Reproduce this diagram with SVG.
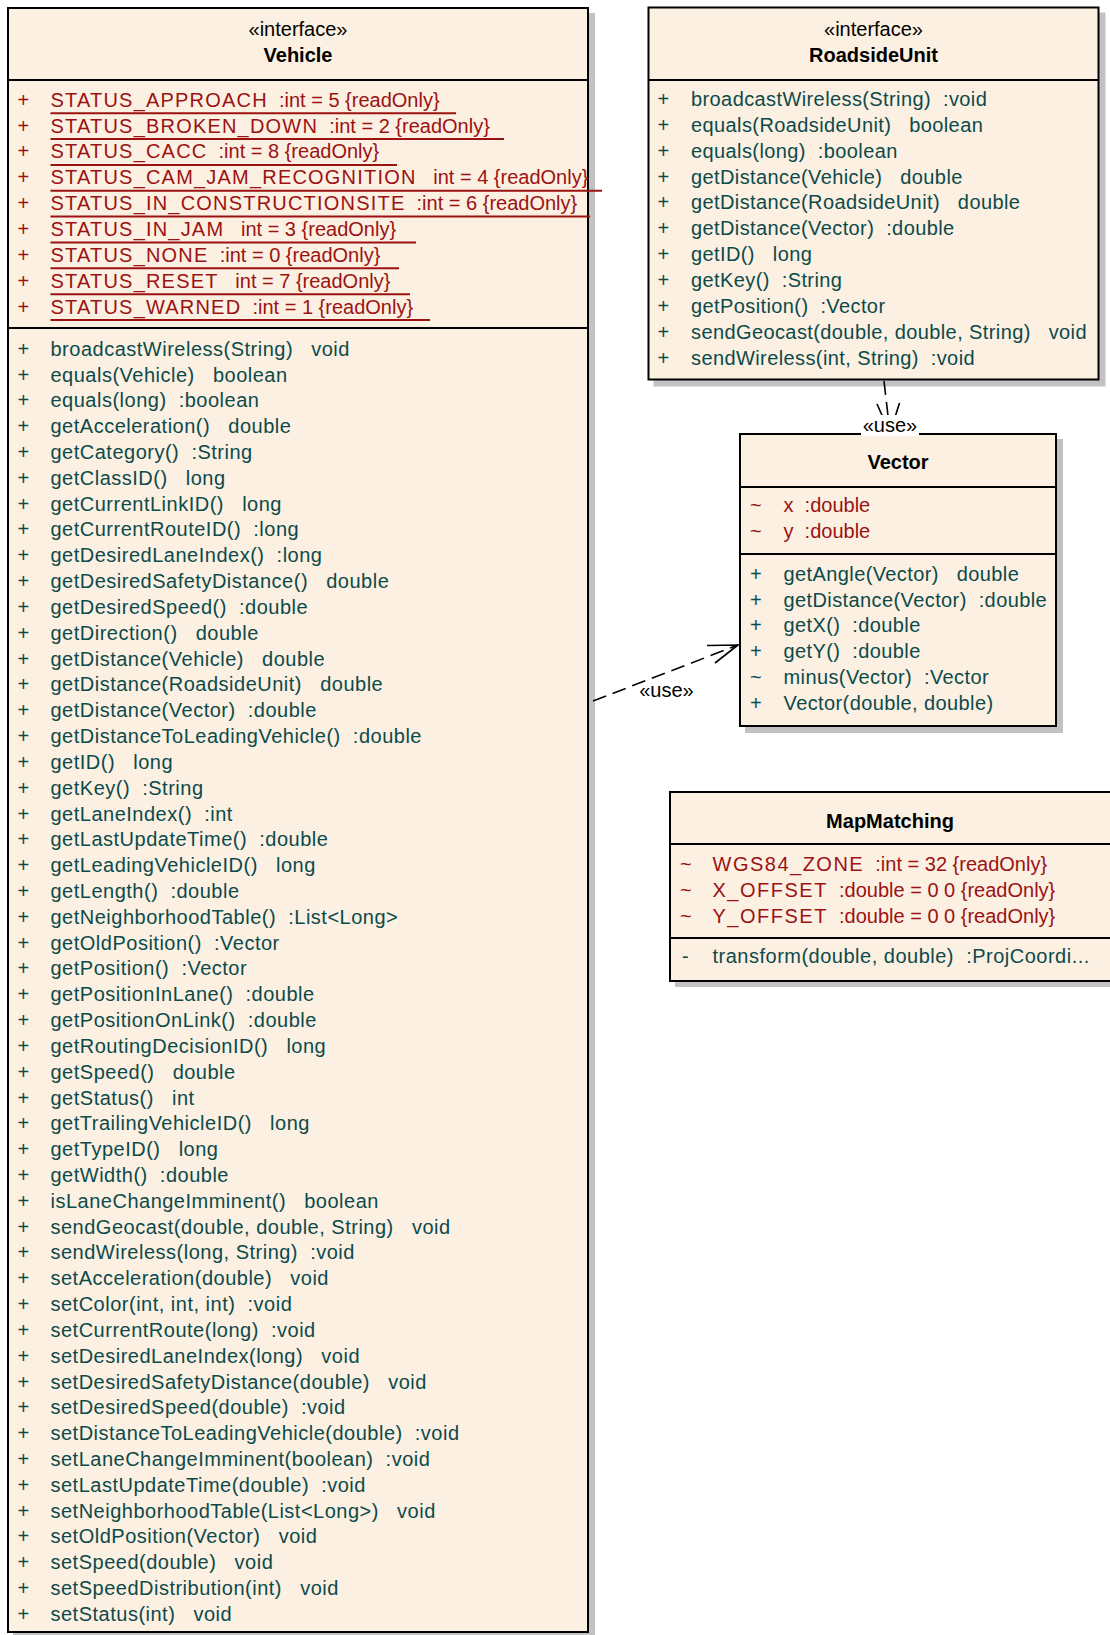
<svg xmlns="http://www.w3.org/2000/svg" width="1110" height="1635" viewBox="0 0 1110 1635" xml:space="preserve">
<style>
text { font-family: "Liberation Sans", Arial, sans-serif; font-size: 20px; white-space: pre; }
.box { fill: #FBF0E2; stroke: #000; stroke-width: 2; }
.shadow { fill: #C2C2C2; }
.sep { stroke: #000; stroke-width: 2; }
.m { fill: #0D4A4A; letter-spacing: 0.5px; }
.v { letter-spacing: 0.4px; }
.a { fill: #9C1212; }
.an { letter-spacing: 1.2px; }
.an2 { letter-spacing: 1.5px; }
.ul { stroke: #9C1212; stroke-width: 2; }
.hd { text-anchor: middle; fill: #000; }
.b { font-weight: bold; }
.conn { stroke: #000; stroke-width: 1.6; fill: none; stroke-dasharray: 14 7; }
.arr { stroke: #000; stroke-width: 1.6; fill: none; }
.lbl { fill: #000; text-anchor: middle; }
.lblbg { fill: #fff; }
</style>
<rect width="1110" height="1635" fill="#fff"/>

<g id="Vehicle">
<rect class="shadow" x="13" y="13" width="582" height="1630"/>
<rect class="box" x="8" y="8" width="580" height="1624"/>
<line class="sep" x1="8" y1="80" x2="588" y2="80"/>
<line class="sep" x1="8" y1="328" x2="588" y2="328"/>
<text class="hd" x="298" y="36">«interface»</text>
<text class="hd b" x="298" y="61.5">Vehicle</text>
<g class="a">
<text x="17.5" y="106.7">+</text><text x="50.5" y="106.7"><tspan class="an">STATUS_APPROACH</tspan>  :int = 5 {readOnly}</text>
<text x="17.5" y="132.55">+</text><text x="50.5" y="132.55"><tspan class="an">STATUS_BROKEN_DOWN</tspan>  :int = 2 {readOnly}</text>
<text x="17.5" y="158.4">+</text><text x="50.5" y="158.4"><tspan class="an">STATUS_CACC</tspan>  :int = 8 {readOnly}</text>
<text x="17.5" y="184.25">+</text><text x="50.5" y="184.25"><tspan class="an">STATUS_CAM_JAM_RECOGNITION</tspan>   int = 4 {readOnly}</text>
<text x="17.5" y="210.1">+</text><text x="50.5" y="210.1"><tspan class="an">STATUS_IN_CONSTRUCTIONSITE</tspan>  :int = 6 {readOnly}</text>
<text x="17.5" y="235.95">+</text><text x="50.5" y="235.95"><tspan class="an">STATUS_IN_JAM</tspan>   int = 3 {readOnly}</text>
<text x="17.5" y="261.8">+</text><text x="50.5" y="261.8"><tspan class="an">STATUS_NONE</tspan>  :int = 0 {readOnly}</text>
<text x="17.5" y="287.65">+</text><text x="50.5" y="287.65"><tspan class="an">STATUS_RESET</tspan>   int = 7 {readOnly}</text>
<text x="17.5" y="313.5">+</text><text x="50.5" y="313.5"><tspan class="an">STATUS_WARNED</tspan>  :int = 1 {readOnly}</text>
</g>
<g>
<line class="ul" x1="50.5" y1="113.2" x2="456" y2="113.2"/>
<line class="ul" x1="50.5" y1="139.05" x2="504" y2="139.05"/>
<line class="ul" x1="50.5" y1="164.9" x2="397" y2="164.9"/>
<line class="ul" x1="50.5" y1="190.75" x2="602" y2="190.75"/>
<line class="ul" x1="50.5" y1="216.6" x2="590" y2="216.6"/>
<line class="ul" x1="50.5" y1="242.45" x2="416" y2="242.45"/>
<line class="ul" x1="50.5" y1="268.3" x2="399" y2="268.3"/>
<line class="ul" x1="50.5" y1="294.15" x2="410" y2="294.15"/>
<line class="ul" x1="50.5" y1="320" x2="430" y2="320"/>
</g>
<g class="m">
<text x="17.5" y="355.7">+</text><text x="50.5" y="355.7">broadcastWireless(String)   void</text>
<text x="17.5" y="381.5">+</text><text x="50.5" y="381.5">equals(Vehicle)   boolean</text>
<text x="17.5" y="407.3">+</text><text x="50.5" y="407.3">equals(long)  :boolean</text>
<text x="17.5" y="433.2">+</text><text x="50.5" y="433.2">getAcceleration()   double</text>
<text x="17.5" y="459">+</text><text x="50.5" y="459">getCategory()  :String</text>
<text x="17.5" y="484.8">+</text><text x="50.5" y="484.8">getClassID()   long</text>
<text x="17.5" y="510.6">+</text><text x="50.5" y="510.6">getCurrentLinkID()   long</text>
<text x="17.5" y="536.4">+</text><text x="50.5" y="536.4">getCurrentRouteID()  :long</text>
<text x="17.5" y="562.3">+</text><text x="50.5" y="562.3">getDesiredLaneIndex()  :long</text>
<text x="17.5" y="588.1">+</text><text x="50.5" y="588.1">getDesiredSafetyDistance()   double</text>
<text x="17.5" y="613.9">+</text><text x="50.5" y="613.9">getDesiredSpeed()  :double</text>
<text x="17.5" y="639.7">+</text><text x="50.5" y="639.7">getDirection()   double</text>
<text x="17.5" y="665.5">+</text><text x="50.5" y="665.5">getDistance(Vehicle)   double</text>
<text x="17.5" y="691.4">+</text><text x="50.5" y="691.4">getDistance(RoadsideUnit)   double</text>
<text x="17.5" y="717.2">+</text><text x="50.5" y="717.2">getDistance(Vector)  :double</text>
<text x="17.5" y="743">+</text><text x="50.5" y="743">getDistanceToLeadingVehicle()  :double</text>
<text x="17.5" y="768.8">+</text><text x="50.5" y="768.8">getID()   long</text>
<text x="17.5" y="794.6">+</text><text x="50.5" y="794.6">getKey()  :String</text>
<text x="17.5" y="820.5">+</text><text x="50.5" y="820.5">getLaneIndex()  :int</text>
<text x="17.5" y="846.3">+</text><text x="50.5" y="846.3">getLastUpdateTime()  :double</text>
<text x="17.5" y="872.1">+</text><text x="50.5" y="872.1">getLeadingVehicleID()   long</text>
<text x="17.5" y="897.9">+</text><text x="50.5" y="897.9">getLength()  :double</text>
<text x="17.5" y="923.7">+</text><text x="50.5" y="923.7">getNeighborhoodTable()  :List&lt;Long&gt;</text>
<text x="17.5" y="949.6">+</text><text x="50.5" y="949.6">getOldPosition()  :Vector</text>
<text x="17.5" y="975.4">+</text><text x="50.5" y="975.4">getPosition()  :Vector</text>
<text x="17.5" y="1001.2">+</text><text x="50.5" y="1001.2">getPositionInLane()  :double</text>
<text x="17.5" y="1027">+</text><text x="50.5" y="1027">getPositionOnLink()  :double</text>
<text x="17.5" y="1052.8">+</text><text x="50.5" y="1052.8">getRoutingDecisionID()   long</text>
<text x="17.5" y="1078.7">+</text><text x="50.5" y="1078.7">getSpeed()   double</text>
<text x="17.5" y="1104.5">+</text><text x="50.5" y="1104.5">getStatus()   int</text>
<text x="17.5" y="1130.3">+</text><text x="50.5" y="1130.3">getTrailingVehicleID()   long</text>
<text x="17.5" y="1156.1">+</text><text x="50.5" y="1156.1">getTypeID()   long</text>
<text x="17.5" y="1181.9">+</text><text x="50.5" y="1181.9">getWidth()  :double</text>
<text x="17.5" y="1207.8">+</text><text x="50.5" y="1207.8">isLaneChangeImminent()   boolean</text>
<text x="17.5" y="1233.6">+</text><text x="50.5" y="1233.6">sendGeocast(double, double, String)   void</text>
<text x="17.5" y="1259.4">+</text><text x="50.5" y="1259.4">sendWireless(long, String)  :void</text>
<text x="17.5" y="1285.2">+</text><text x="50.5" y="1285.2">setAcceleration(double)   void</text>
<text x="17.5" y="1311">+</text><text x="50.5" y="1311">setColor(int, int, int)  :void</text>
<text x="17.5" y="1336.9">+</text><text x="50.5" y="1336.9">setCurrentRoute(long)  :void</text>
<text x="17.5" y="1362.7">+</text><text x="50.5" y="1362.7">setDesiredLaneIndex(long)   void</text>
<text x="17.5" y="1388.5">+</text><text x="50.5" y="1388.5">setDesiredSafetyDistance(double)   void</text>
<text x="17.5" y="1414.3">+</text><text x="50.5" y="1414.3">setDesiredSpeed(double)  :void</text>
<text x="17.5" y="1440.1">+</text><text x="50.5" y="1440.1">setDistanceToLeadingVehicle(double)  :void</text>
<text x="17.5" y="1466">+</text><text x="50.5" y="1466">setLaneChangeImminent(boolean)  :void</text>
<text x="17.5" y="1491.8">+</text><text x="50.5" y="1491.8">setLastUpdateTime(double)  :void</text>
<text x="17.5" y="1517.6">+</text><text x="50.5" y="1517.6">setNeighborhoodTable(List&lt;Long&gt;)   void</text>
<text x="17.5" y="1543.4">+</text><text x="50.5" y="1543.4">setOldPosition(Vector)   void</text>
<text x="17.5" y="1569.2">+</text><text x="50.5" y="1569.2">setSpeed(double)   void</text>
<text x="17.5" y="1595.1">+</text><text x="50.5" y="1595.1">setSpeedDistribution(int)   void</text>
<text x="17.5" y="1620.9">+</text><text x="50.5" y="1620.9">setStatus(int)   void</text>
</g>
</g>

<g id="RoadsideUnit">
<rect class="shadow" x="653.5" y="12.5" width="452" height="374"/>
<rect class="box" x="648.5" y="7.5" width="450" height="372"/>
<line class="sep" x1="648.5" y1="80" x2="1098.5" y2="80"/>
<text class="hd" x="873.5" y="36">«interface»</text>
<text class="hd b" x="873.5" y="61.5">RoadsideUnit</text>
<g class="m v">
<text x="657.5" y="106">+</text><text x="691" y="106">broadcastWireless(String)  :void</text>
<text x="657.5" y="131.85">+</text><text x="691" y="131.85">equals(RoadsideUnit)   boolean</text>
<text x="657.5" y="157.7">+</text><text x="691" y="157.7">equals(long)  :boolean</text>
<text x="657.5" y="183.55">+</text><text x="691" y="183.55">getDistance(Vehicle)   double</text>
<text x="657.5" y="209.4">+</text><text x="691" y="209.4">getDistance(RoadsideUnit)   double</text>
<text x="657.5" y="235.25">+</text><text x="691" y="235.25">getDistance(Vector)  :double</text>
<text x="657.5" y="261.1">+</text><text x="691" y="261.1">getID()   long</text>
<text x="657.5" y="286.95">+</text><text x="691" y="286.95">getKey()  :String</text>
<text x="657.5" y="312.8">+</text><text x="691" y="312.8">getPosition()  :Vector</text>
<text x="657.5" y="338.65">+</text><text x="691" y="338.65">sendGeocast(double, double, String)   void</text>
<text x="657.5" y="364.5">+</text><text x="691" y="364.5">sendWireless(int, String)  :void</text>
</g>
</g>

<g id="Vector">
<rect class="shadow" x="745" y="439" width="318" height="294"/>
<rect class="box" x="740" y="434" width="316" height="292"/>
<line class="sep" x1="740" y1="487" x2="1056" y2="487"/>
<line class="sep" x1="740" y1="554" x2="1056" y2="554"/>
<text class="hd b" x="898" y="469">Vector</text>
<g class="a">
<text x="750" y="511.7">~</text><text x="783.5" y="511.7">x  :double</text>
<text x="750" y="537.5">~</text><text x="783.5" y="537.5">y  :double</text>
</g>
<g class="m v">
<text x="750" y="580.7">+</text><text x="783.5" y="580.7">getAngle(Vector)   double</text>
<text x="750" y="606.55">+</text><text x="783.5" y="606.55">getDistance(Vector)  :double</text>
<text x="750" y="632.4">+</text><text x="783.5" y="632.4">getX()  :double</text>
<text x="750" y="658.25">+</text><text x="783.5" y="658.25">getY()  :double</text>
<text x="750" y="684.1">~</text><text x="783.5" y="684.1">minus(Vector)  :Vector</text>
<text x="750" y="709.95">+</text><text x="783.5" y="709.95">Vector(double, double)</text>
</g>
</g>

<g id="MapMatching">
<rect class="shadow" x="675" y="797" width="445" height="190"/>
<rect class="box" x="670" y="792" width="445" height="189"/>
<line class="sep" x1="670" y1="844" x2="1115" y2="844"/>
<line class="sep" x1="670" y1="938" x2="1115" y2="938"/>
<text class="hd b" x="890" y="828">MapMatching</text>
<g class="a">
<text x="680" y="871">~</text><text x="712.5" y="871"><tspan class="an2">WGS84_ZONE</tspan>  :int = 32 {readOnly}</text>
<text x="680" y="896.8">~</text><text x="712.5" y="896.8"><tspan class="an2">X_OFFSET</tspan>  :double = 0 0 {readOnly}</text>
<text x="680" y="922.6">~</text><text x="712.5" y="922.6"><tspan class="an2">Y_OFFSET</tspan>  :double = 0 0 {readOnly}</text>
</g>
<g class="m">
<text x="682" y="963">-</text><text x="712.5" y="963">transform(double, double)  :ProjCoordi...</text>
</g>
</g>

<g id="connectors">
<g id="vehicle-uses-vector">
<path class="conn" d="M593,701 L738,645"/>
<path class="arr" d="M707,645.5 L738,645 L715,663"/>
<rect class="lblbg" x="638" y="684" width="57" height="18"/>
<text class="lbl" x="666.5" y="697">«use»</text>
</g>
<g id="roadsideunit-uses-vector">
<path class="conn" d="M884,381 L890,433"/>
<path class="arr" d="M877,404 L890,433 L899.5,403"/>
<rect class="lblbg" x="861" y="415" width="58" height="21"/>
<text class="lbl" x="890" y="431.5">«use»</text>
</g>
</g>
</svg>
